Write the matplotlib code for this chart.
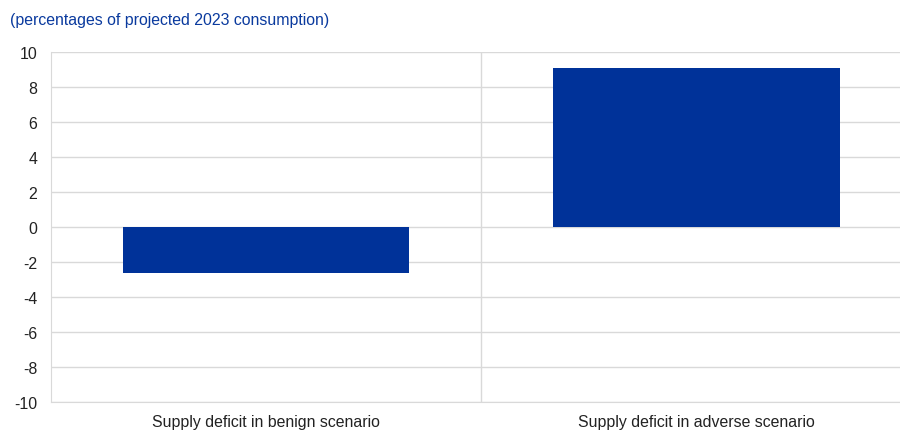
import matplotlib.pyplot as plt

# chart data
categories = ['Supply deficit in benign scenario', 'Supply deficit in adverse scenario']
values = [-2.6, 9.1]
y_ticks = [-10, -8, -6, -4, -2, 0, 2, 4, 6, 8, 10]

plt.rcParams['font.family'] = ['Liberation Sans', 'DejaVu Sans']

bar_color = '#003299'
grid_color = '#d9d9d9'
fs = 11.4

fig = plt.figure(figsize=(9, 4.31), dpi=100)
ax = fig.add_axes([51 / 900, 1 - 403 / 431, 849 / 900, 350 / 431])

x = list(range(len(categories)))
ax.bar(x, values, width=0.667, color=bar_color, zorder=3)

ax.set_ylim(-10, 10)
ax.set_yticks(y_ticks)
ax.set_yticklabels([str(t) for t in y_ticks], fontsize=fs, color='#222222')
ax.set_xlim(-0.5, 1.474)
ax.set_xticks(x)
ax.set_xticklabels(categories, fontsize=fs, color='#222222')
ax.tick_params(axis='both', length=0)
ax.tick_params(axis='y', pad=10)
ax.tick_params(axis='x', pad=9)

ax.grid(axis='y', color=grid_color, linewidth=1, zorder=0)
ax.axvline(0.5, color=grid_color, linewidth=1, zorder=0)

for side in ['top', 'right']:
    ax.spines[side].set_visible(False)
ax.spines['left'].set_color(grid_color)
ax.spines['bottom'].set_color(grid_color)

fig.text(10 / 900, 1 - 20 / 431, '(percentages of projected 2023 consumption)',
         fontsize=fs, color='#0a3a9e', va='center', ha='left')

plt.savefig('out.png', dpi=100)
